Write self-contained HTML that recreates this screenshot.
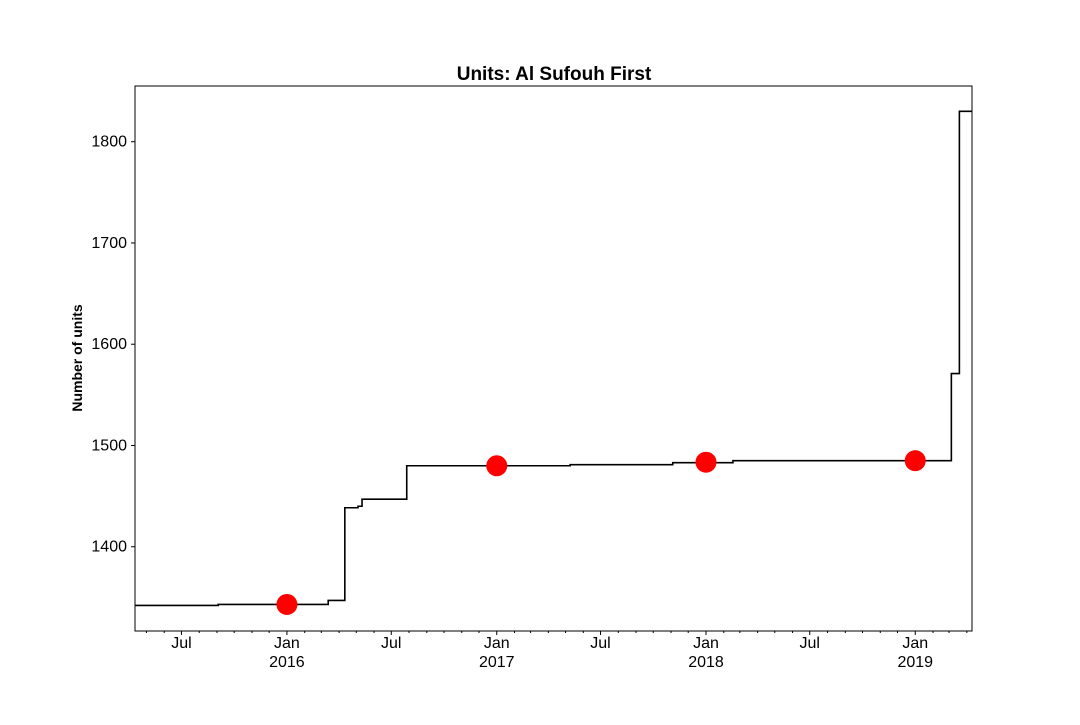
<!DOCTYPE html>
<html><head><meta charset="utf-8"><style>
html,body{margin:0;padding:0;background:#fff;}
svg text{font-family:"Liberation Sans","DejaVu Sans",sans-serif;}
</style></head><body>
<svg id="chart" width="1080" height="720" xmlns="http://www.w3.org/2000/svg">
<rect width="1080" height="720" fill="#fff"/>
<text x="554" y="80" text-anchor="middle" font-size="19" font-weight="bold">Units: Al Sufouh First</text>
<text transform="translate(82,358) rotate(-90)" text-anchor="middle" font-size="14" font-weight="bold">Number of units</text>
<g id="grid"></g>
<g id="marks"></g>
<rect x="135" y="86" width="837" height="545" fill="none" stroke="#000" stroke-width="1"/>
</svg>
<script>
const stepDates = ["2015-04-11","2015-09-03","2016-03-13","2016-04-11","2016-05-04","2016-05-11","2016-07-28","2017-05-09","2017-11-04","2018-02-17","2019-03-05","2019-03-19","2019-04-10"];
const stepValues = [1342,1343,1347,1438.5,1440,1447,1480,1481,1483,1485,1571,1830,1830];
const dotDates = ["2016-01-01","2017-01-01","2018-01-01","2019-01-01"];
const dotValues = [1343,1480,1483.5,1485];
const yTicks = [1400,1500,1600,1700,1800];

const NS="http://www.w3.org/2000/svg";
const L=135,R=972,T=86,B=631;
const d0=Date.parse("2015-04-11"), d1=Date.parse("2019-04-10");
const v0=1316.8, v1=1855;
function xs(d){return L+(Date.parse(d)-d0)/(d1-d0)*(R-L);}
function ys(v){return B-(v-v0)/(v1-v0)*(B-T);}
function mk(tag,attrs,parent){const e=document.createElementNS(NS,tag);for(const k in attrs)e.setAttribute(k,attrs[k]);parent.appendChild(e);return e;}
const g=document.getElementById('grid'), m=document.getElementById('marks');

yTicks.forEach(v=>{
  const y=ys(v);
  const t=mk('line',{x1:L-4,x2:L,y1:y,y2:y,stroke:'#000'},g);
  
  
  const tx=mk('text',{x:L-8,y:y+5,'text-anchor':'end','font-size':16},g);
  tx.textContent=v;
  
  
});

const mn=["Jan","Feb","Mar","Apr","May","Jun","Jul","Aug","Sep","Oct","Nov","Dec"];
for(let yr=2015;yr<=2019;yr++){for(let mo=0;mo<12;mo++){
  const ds=yr+"-"+String(mo+1).padStart(2,'0')+"-01";
  const x=xs(ds); if(x<L-0.5||x>R+0.5) continue;
  const major=(mo===0||mo===6);
  const t=mk('line',{x1:x,x2:x,y1:B,y2:B+(major?4:2),stroke:'#000'},g);
  
  
  if(major){
    const tx=mk('text',{x:x,y:B+17,'text-anchor':'middle','font-size':16},g);
    tx.textContent=mn[mo];
    
    
    if(mo===0){
      const ty=mk('text',{x:x,y:B+36,'text-anchor':'middle','font-size':16},g);
      ty.textContent=yr;
      
      
    }
  }
}}

let p="";
for(let i=0;i<stepDates.length;i++){
  const x=xs(stepDates[i]), y=ys(stepValues[i]);
  if(i===0) p+="M"+x+" "+y; else p+=" H"+x+" V"+y;
  if(i===stepDates.length-1) p+=" H"+x;
}
const line=mk('path',{d:p,fill:'none',stroke:'#000','stroke-width':1.6},m);



dotDates.forEach((d,i)=>{
  const c=mk('circle',{cx:xs(d),cy:ys(dotValues[i]),r:10.5,fill:'#ff0000'},m);
  
  
});
</script>
</body></html>
